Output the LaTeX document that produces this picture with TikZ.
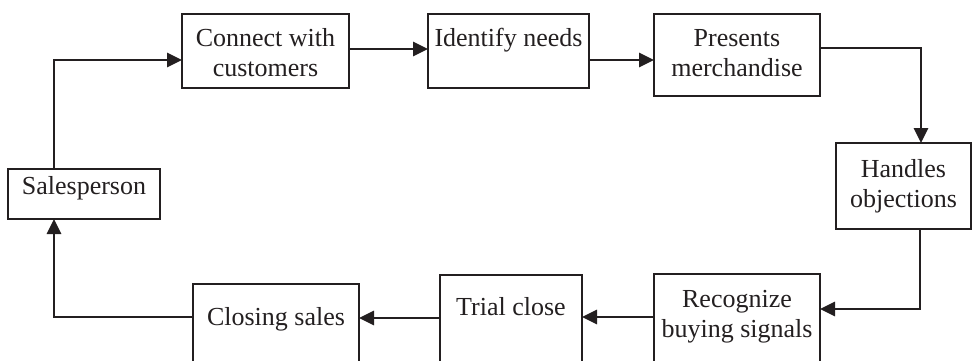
\documentclass[tikz,border=0pt]{standalone}
\usepackage{fontspec}
\setmainfont{Liberation Serif}
\usetikzlibrary{arrows.meta}
\definecolor{ink}{HTML}{231F20}
\begin{document}
\begin{tikzpicture}[x=1pt,y=-1pt,
  box/.style={draw=ink, line width=2.1pt, rectangle, inner sep=0pt, outer sep=0pt},
  lbl/.style={font=\fontsize{26}{30}\selectfont, text=ink, inner sep=0pt, anchor=base},
  arr/.style={draw=ink, line width=2.8pt, -{Triangle[length=15pt,width=14pt]}}]
\useasboundingbox (0,0) rectangle (972,361);
\clip (0,0) rectangle (972,361);

% process boxes
\node[box, minimum width=167pt, minimum height=74pt] (cw) at (265.5,51) {};
\node[box, minimum width=161pt, minimum height=74pt] (id) at (508.5,51) {};
\node[box, minimum width=166pt, minimum height=82pt] (pm) at (737,55) {};
\node[box, minimum width=135pt, minimum height=86pt] (ho) at (903.5,186) {};
\node[box, minimum width=166pt, minimum height=92pt] (rb) at (737,320) {};
\node[box, minimum width=142pt, minimum height=91pt] (tc) at (511,320.5) {};
\node[box, minimum width=166pt, minimum height=82pt] (cs) at (276,325) {};
\node[box, minimum width=152pt, minimum height=50pt] (sp) at (84,194) {};

% box texts
\node[lbl] (cw1) at (265.5,47) {Connect with};
\node[lbl] (cw2) at (265.5,77) {customers};
\node[lbl] (id1) at (508.5,47) {Identify needs};
\node[lbl] (pm1) at (737,47) {Presents};
\node[lbl] (pm2) at (737,77) {merchandise};
\node[lbl] (ho1) at (903.5,177) {Handles};
\node[lbl] (ho2) at (903.5,207) {objections};
\node[lbl] (rb1) at (737,307) {Recognize};
\node[lbl] (rb2) at (737,337) {buying signals};
\node[lbl] (tc1) at (511,315) {Trial close};
\node[lbl] (cs1) at (276,325) {Closing sales};
\node[lbl] (sp1) at (84,194) {Salesperson};

% connectors
\draw[arr] (sp.north -| 54,0) |- (cw.west |- 0,60);
\draw[arr] (cw.east |- 0,49) -- (id.west |- 0,49);
\draw[arr] (id.east |- 0,60) -- (pm.west |- 0,60);
\draw[arr] (pm.east |- 0,48) -| (ho.north -| 921,0);
\draw[arr] (ho.south -| 920,0) |- (rb.east |- 0,309);
\draw[arr] (rb.west |- 0,317) -- (tc.east |- 0,317);
\draw[arr] (tc.west |- 0,318) -- (cs.east |- 0,318);
\draw[arr] (cs.west |- 0,317) -| (sp.south -| 54,0);
\end{tikzpicture}
\end{document}
